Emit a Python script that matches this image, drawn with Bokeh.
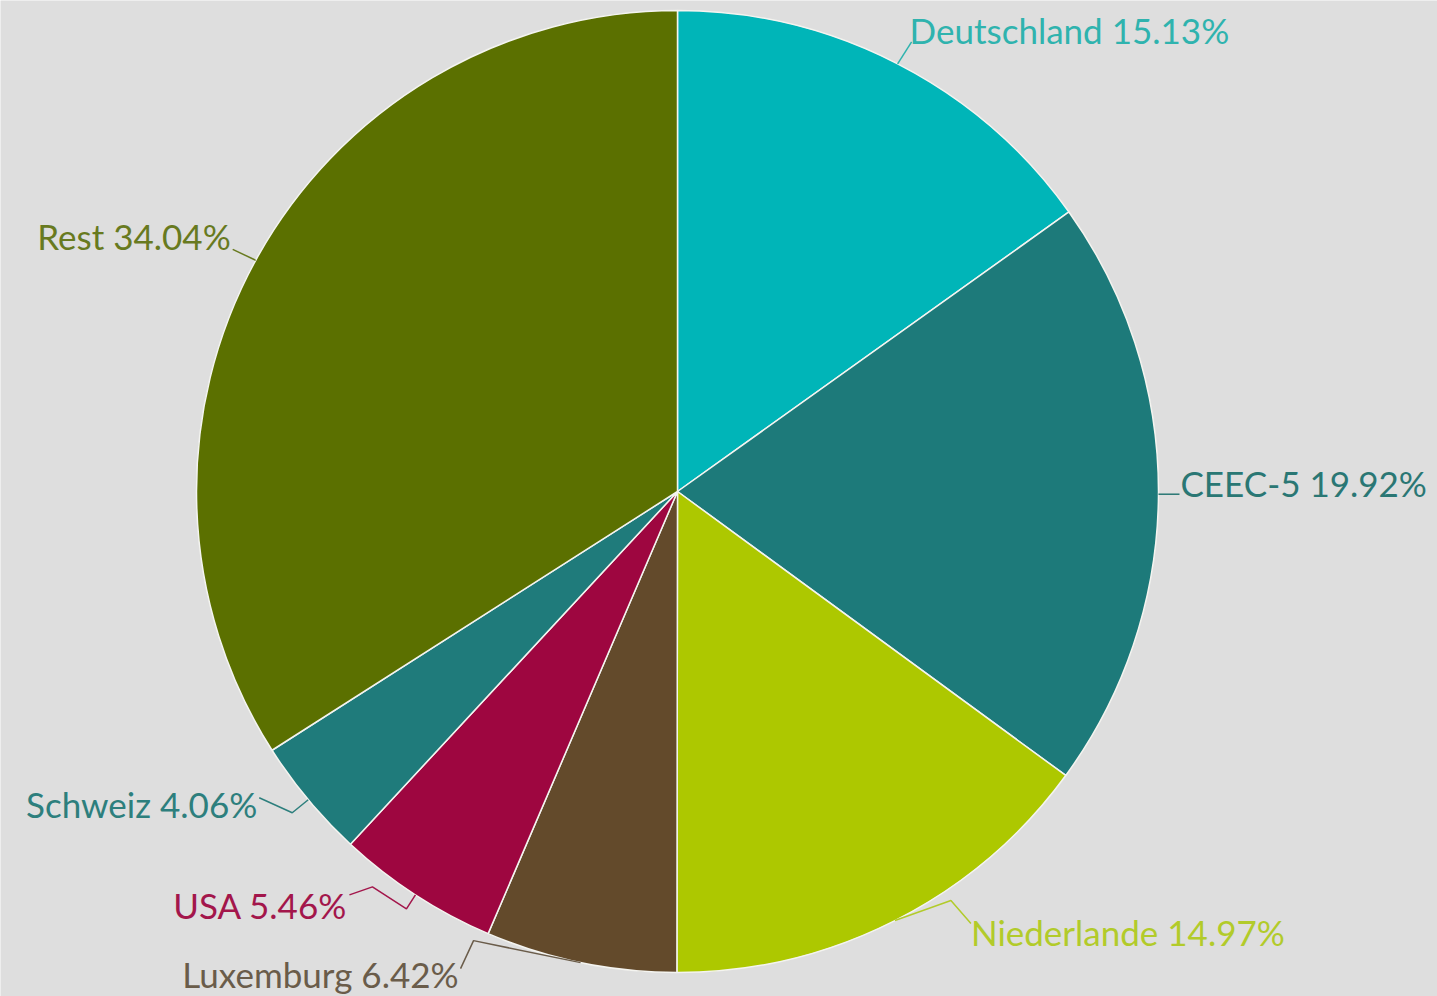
import numpy as np
from bokeh.plotting import figure
from bokeh.models import ColumnDataSource, Range1d
from bokeh.core.properties import value
from bokeh.embed import file_html
from bokeh.resources import INLINE

# ---- data ----
names = ["Deutschland", "CEEC-5", "Niederlande", "Luxemburg", "USA", "Schweiz", "Rest"]
shares = [15.13, 19.92, 14.97, 6.42, 5.46, 4.06, 34.04]

# ---- styles ----
slice_colors = ["#00b5b8", "#1d7a7a", "#adc800", "#634a2b", "#9e0640", "#1f7b7b", "#5b7000"]
label_colors = ["#2fb3ae", "#2a7774", "#b2cb2a", "#6a5c4a", "#a3164b", "#2d7f7d", "#687a1f"]
# leader-line knees (screen px, relative to the arc point) and label anchor offsets
knees = [[(14, -22)], [(21, 0)], [(56, -20), (76, 3)], [(-107, -22), (-120, 6)],
         [(-9, 14), (-43, -8), (-66, 0)], [(-16, 13), (-49, -2)], [(-23, -11)]]
label_off = [(12, -34), (22, -11), (76, 11), (-122, 11), (-68, 10), (-51, 4), (-25, -24)]

W, H = 1437, 996
BG = "#dedede"
cx, cy, R = 677, H - 491, 481

p = figure(width=W, height=H, x_range=Range1d(0, W), y_range=Range1d(0, H),
           output_backend="svg", toolbar_location=None, min_border=0)
p.axis.visible = False
p.grid.visible = False
p.outline_line_color = None
p.background_fill_color = BG
p.border_fill_color = BG

frac = np.array(shares) / 100.0
cum = np.concatenate([[0], np.cumsum(frac)])
start = np.pi / 2 - 2 * np.pi * cum[:-1]
end = np.pi / 2 - 2 * np.pi * cum[1:]
mid = (start + end) / 2

src = ColumnDataSource(dict(start=start, end=end, color=slice_colors))
p.wedge(x=cx, y=cy, radius=R, start_angle="start", end_angle="end",
        direction="clock", fill_color="color", line_color="#f4f4f0",
        line_width=1.5, source=src)

ax = cx + R * np.cos(mid)
ay = cy + R * np.sin(mid)

xs, ys = [], []
for i in range(len(names)):
    lx = [ax[i]] + [ax[i] + dx for dx, dy in knees[i]]
    ly = [ay[i]] + [ay[i] - dy for dx, dy in knees[i]]
    xs.append(lx)
    ys.append(ly)
p.multi_line(xs=xs, ys=ys, line_color=label_colors, line_width=1.5)

texts = [f"{n} {v:.2f}%" for n, v in zip(names, shares)]
right = dict(x=[], y=[], t=[], c=[])
left = dict(x=[], y=[], t=[], c=[])
for i in range(len(names)):
    d = right if ax[i] > cx else left
    d["x"].append(ax[i] + label_off[i][0])
    d["y"].append(ay[i] - label_off[i][1])
    d["t"].append(texts[i])
    d["c"].append(label_colors[i])

for d, align in ((right, "left"), (left, "right")):
    p.text(x="x", y="y", text="t", text_color="c", source=ColumnDataSource(d),
           text_font=value("Lato"), text_font_size="35px",
           text_align=align, text_baseline="middle")

open("out.html", "w").write(file_html(p, INLINE))
